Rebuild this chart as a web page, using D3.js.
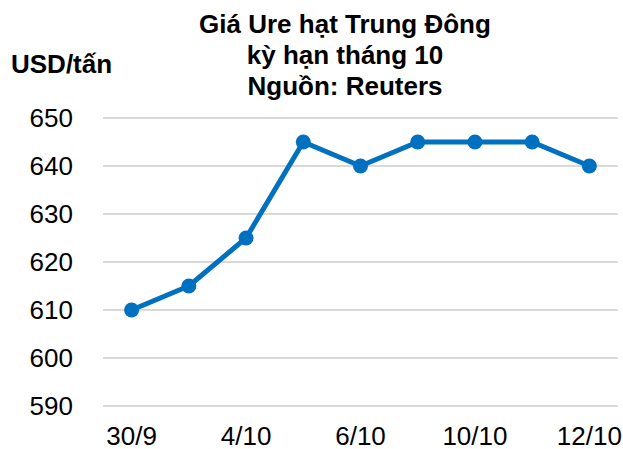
<!DOCTYPE html>
<html>
<head>
<meta charset="utf-8">
<script src="https://cdn.jsdelivr.net/npm/d3@7"></script>
<style>
  html, body { margin: 0; padding: 0; background: #fff; }
  svg { display: block; font-family: "Liberation Sans", Arial, sans-serif; }
</style>
</head>
<body>
<svg id="chart"></svg>
<script>
// Dữ liệu
const dates = ["30/9", "1/10", "4/10", "5/10", "6/10", "7/10", "10/10", "11/10", "12/10"];
const prices = [610, 615, 625, 645, 640, 645, 645, 645, 640];
const yTicks = [590, 600, 610, 620, 630, 640, 650];
const titleLines = ["Giá Ure hạt Trung Đông", "kỳ hạn tháng 10", "Nguồn: Reuters"];
const unitLabel = "USD/tấn";

const width = 623, height = 449;
const margin = { top: 118, right: 5, bottom: 43, left: 103 };
const plotRight = 618;
const plotBottom = 406;

const svg = d3.select("#chart").attr("width", width).attr("height", height);

// Thang đo
const x = d3.scaleBand().domain(dates).range([margin.left, plotRight]);
const y = d3.scaleLinear().domain([590, 650]).range([plotBottom, margin.top]);

// Lưới ngang
svg.append("g")
  .selectAll("line")
  .data(yTicks)
  .enter().append("line")
  .attr("x1", margin.left)
  .attr("x2", plotRight)
  .attr("y1", d => y(d))
  .attr("y2", d => y(d))
  .attr("stroke", "#d9d9d9")
  .attr("stroke-width", 2);

// Trục Y
const yAxis = d3.axisLeft(y).tickValues(yTicks).tickSize(0).tickPadding(0);
svg.append("g")
  .attr("transform", `translate(73,0)`)
  .call(yAxis)
  .call(g => g.select(".domain").remove())
  .selectAll("text")
  .attr("fill", "#000")
  .style("font-size", "26px")
  .attr("dy", "0.34em");

// Trục X, chỉ hiện nhãn xen kẽ
const xAxis = d3.axisBottom(x).tickSize(0).tickPadding(0)
  .tickFormat((d, i) => i % 2 === 0 ? d : "");
svg.append("g")
  .attr("transform", `translate(0,${plotBottom})`)
  .call(xAxis)
  .call(g => g.select(".domain").remove())
  .selectAll("text")
  .attr("fill", "#000")
  .style("font-size", "26px")
  .attr("dy", null)
  .attr("y", 39);

// Đường giá
const line = d3.line()
  .x((d, i) => x(dates[i]) + x.bandwidth() / 2)
  .y(d => y(d));

svg.append("path")
  .datum(prices)
  .attr("d", line)
  .attr("fill", "none")
  .attr("stroke", "#0070C0")
  .attr("stroke-width", 5)
  .attr("stroke-linejoin", "round");

svg.append("g")
  .selectAll("circle")
  .data(prices)
  .enter().append("circle")
  .attr("cx", (d, i) => x(dates[i]) + x.bandwidth() / 2)
  .attr("cy", d => y(d))
  .attr("r", 7.5)
  .attr("fill", "#0070C0");

// Tiêu đề
svg.append("g")
  .selectAll("text")
  .data(titleLines)
  .enter().append("text")
  .attr("x", 345)
  .attr("y", (d, i) => 33 + i * 31)
  .attr("text-anchor", "middle")
  .style("font-size", "26px")
  .style("font-weight", "bold")
  .text(d => d);

// Đơn vị
svg.append("text")
  .attr("x", 11)
  .attr("y", 73)
  .style("font-size", "26px")
  .style("font-weight", "bold")
  .text(unitLabel);
</script>
</body>
</html>
